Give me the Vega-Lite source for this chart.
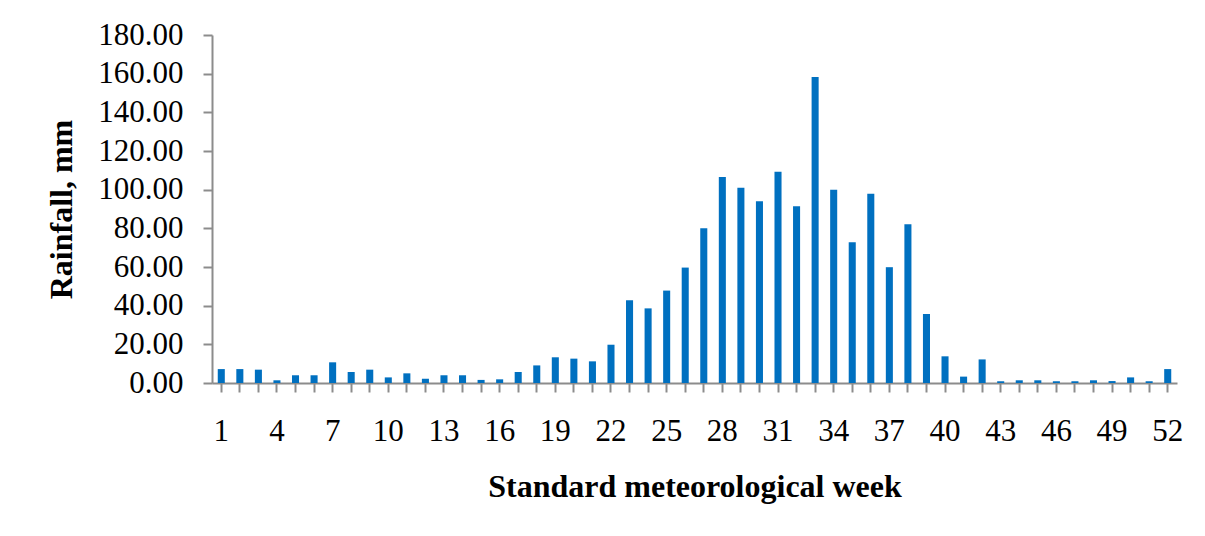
{
  "$schema": "https://vega.github.io/schema/vega-lite/v6.json",
  "autosize": "none",
  "padding": {"left": 212, "top": 35, "right": 28, "bottom": 153},
  "width": 965,
  "height": 348,
  "background": "white",
  "data": {
    "values": [
      {"week": 1, "rain": 7.2}, {"week": 2, "rain": 7.2}, {"week": 3, "rain": 6.9}, {"week": 4, "rain": 1.4},
      {"week": 5, "rain": 4.0}, {"week": 6, "rain": 4.0}, {"week": 7, "rain": 10.7}, {"week": 8, "rain": 5.7},
      {"week": 9, "rain": 6.9}, {"week": 10, "rain": 2.9}, {"week": 11, "rain": 5.0}, {"week": 12, "rain": 2.2},
      {"week": 13, "rain": 4.0}, {"week": 14, "rain": 4.0}, {"week": 15, "rain": 1.6}, {"week": 16, "rain": 1.9},
      {"week": 17, "rain": 5.7}, {"week": 18, "rain": 9.1}, {"week": 19, "rain": 13.3}, {"week": 20, "rain": 12.6},
      {"week": 21, "rain": 11.2}, {"week": 22, "rain": 19.8}, {"week": 23, "rain": 42.8}, {"week": 24, "rain": 38.6},
      {"week": 25, "rain": 47.8}, {"week": 26, "rain": 59.7}, {"week": 27, "rain": 80.0}, {"week": 28, "rain": 106.6},
      {"week": 29, "rain": 101.0}, {"week": 30, "rain": 94.0}, {"week": 31, "rain": 109.3}, {"week": 32, "rain": 91.4},
      {"week": 33, "rain": 158.3}, {"week": 34, "rain": 100.0}, {"week": 35, "rain": 72.8}, {"week": 36, "rain": 97.9},
      {"week": 37, "rain": 59.9}, {"week": 38, "rain": 82.1}, {"week": 39, "rain": 35.7}, {"week": 40, "rain": 13.8},
      {"week": 41, "rain": 3.3}, {"week": 42, "rain": 12.2}, {"week": 43, "rain": 0.9}, {"week": 44, "rain": 1.4},
      {"week": 45, "rain": 1.4}, {"week": 46, "rain": 0.9}, {"week": 47, "rain": 0.9}, {"week": 48, "rain": 1.4},
      {"week": 49, "rain": 1.0}, {"week": 50, "rain": 2.9}, {"week": 51, "rain": 0.9}, {"week": 52, "rain": 7.2}
    ]
  },
  "mark": {"type": "bar", "color": "#0070C0"},
  "encoding": {
    "x": {
      "field": "week",
      "type": "ordinal",
      "sort": "ascending",
      "scale": {"paddingInner": 0.62, "paddingOuter": 0.31},
      "axis": {
        "title": "Standard meteorological week",
        "labelAngle": 0,
        "labelOverlap": false,
        "labelExpr": "(datum.value - 1) % 3 == 0 ? datum.value : ''",
        "labelPadding": 24,
        "tickSize": 9,
        "titlePadding": 25
      }
    },
    "y": {
      "field": "rain",
      "type": "quantitative",
      "scale": {"domain": [0, 180], "nice": false},
      "axis": {
        "title": "Rainfall, mm",
        "values": [0, 20, 40, 60, 80, 100, 120, 140, 160, 180],
        "format": ".2f",
        "grid": false,
        "labelPadding": 20,
        "tickSize": 9,
        "titlePadding": 19
      }
    }
  },
  "config": {
    "view": {"stroke": null},
    "axis": {
      "labelFont": "Liberation Serif",
      "labelFontSize": 31,
      "labelColor": "black",
      "titleFont": "Liberation Serif",
      "titleFontSize": 32,
      "titleFontWeight": "bold",
      "titleColor": "black",
      "domainColor": "#8c8c8c",
      "domainWidth": 2,
      "tickColor": "#8c8c8c",
      "tickWidth": 2
    }
  }
}
